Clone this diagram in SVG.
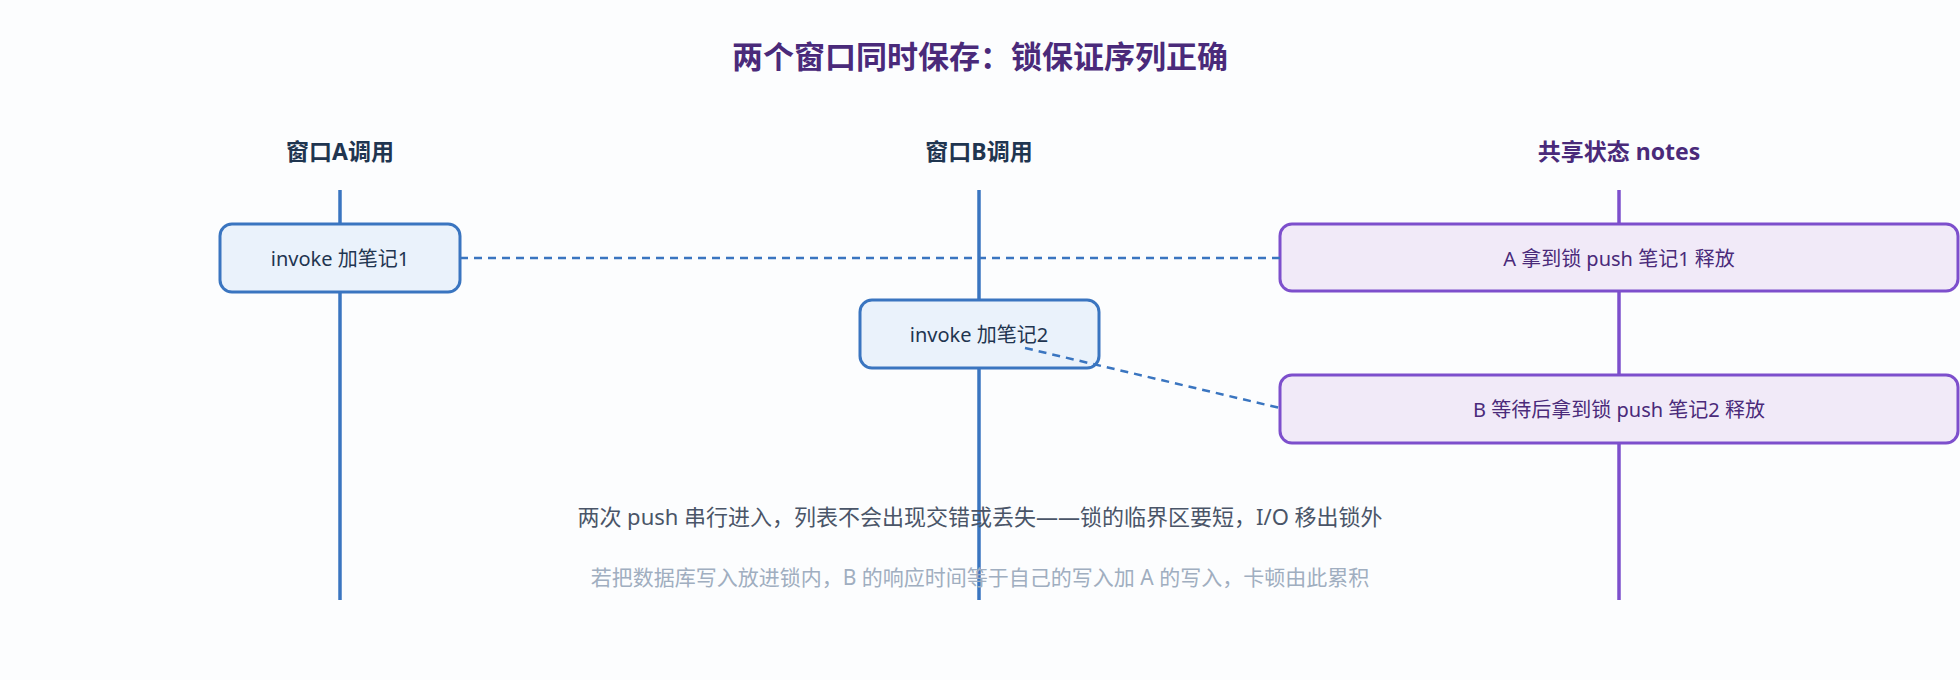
<svg xmlns="http://www.w3.org/2000/svg" width="1960" height="680" viewBox="0 0 1960 680">
<style>
text{font-family:"Noto Sans","Noto Sans CJK SC",sans-serif;text-anchor:middle;dominant-baseline:central}
.hd{font-size:23px;font-weight:bold;fill:#1f3550}
.life{stroke:#3a75c0;stroke-width:3.5}
.plife{stroke:#7d4fcc;stroke-width:3.5}
.box{fill:#eaf2fb;stroke:#3a75c0;stroke-width:3}
.pbox{fill:#f1eaf8;stroke:#7d4fcc;stroke-width:3}
.bt{font-size:20px;fill:#1f3550}
.pt{font-size:20px;fill:#4a2a7a}
.dash{stroke:#3a75c0;stroke-width:2.5;stroke-dasharray:8 6;fill:none}
</style>
<rect width="1960" height="680" fill="#fcfdfe"/>
<text x="980" y="56" style="font-size:31px;font-weight:bold;fill:#4a2a7a">两个窗口同时保存：锁保证序列正确</text>
<text class="hd" x="340" y="151">窗口A调用</text>
<text class="hd" x="979" y="151">窗口B调用</text>
<text class="hd" x="1619" y="151" style="fill:#4a2a7a">共享状态 notes</text>
<g id="lifelines">
<line class="life" x1="340" y1="190" x2="340" y2="600"/>
<line class="life" x1="979" y1="190" x2="979" y2="600"/>
<line class="plife" x1="1619" y1="190" x2="1619" y2="600"/>
</g>
<g id="nodeA"><rect class="box" x="220" y="224" width="240" height="68" rx="12"/><text class="bt" x="340" y="258">invoke 加笔记1</text></g>
<g id="nodeB"><rect class="box" x="860" y="300" width="239" height="68" rx="12"/><text class="bt" x="979" y="334">invoke 加笔记2</text></g>
<g id="note1"><rect class="pbox" x="1280" y="224" width="678" height="67" rx="12"/><text class="pt" x="1619" y="258">A 拿到锁 push 笔记1 释放</text></g>
<g id="note2"><rect class="pbox" x="1280" y="375" width="678" height="68" rx="12"/><text class="pt" x="1619" y="409">B 等待后拿到锁 push 笔记2 释放</text></g>
<g id="connectors">
<line class="dash" x1="460" y1="258" x2="1280" y2="258"/>
<line class="dash" x1="1025" y1="348" x2="1280" y2="408"/>
</g>
<text x="980" y="516" style="font-size:22px;fill:#4a5568">两次 push 串行进入，列表不会出现交错或丢失——锁的临界区要短，I/O 移出锁外</text>
<text x="980" y="577" style="font-size:21px;fill:#a0aec0">若把数据库写入放进锁内，B 的响应时间等于自己的写入加 A 的写入，卡顿由此累积</text>
</svg>
